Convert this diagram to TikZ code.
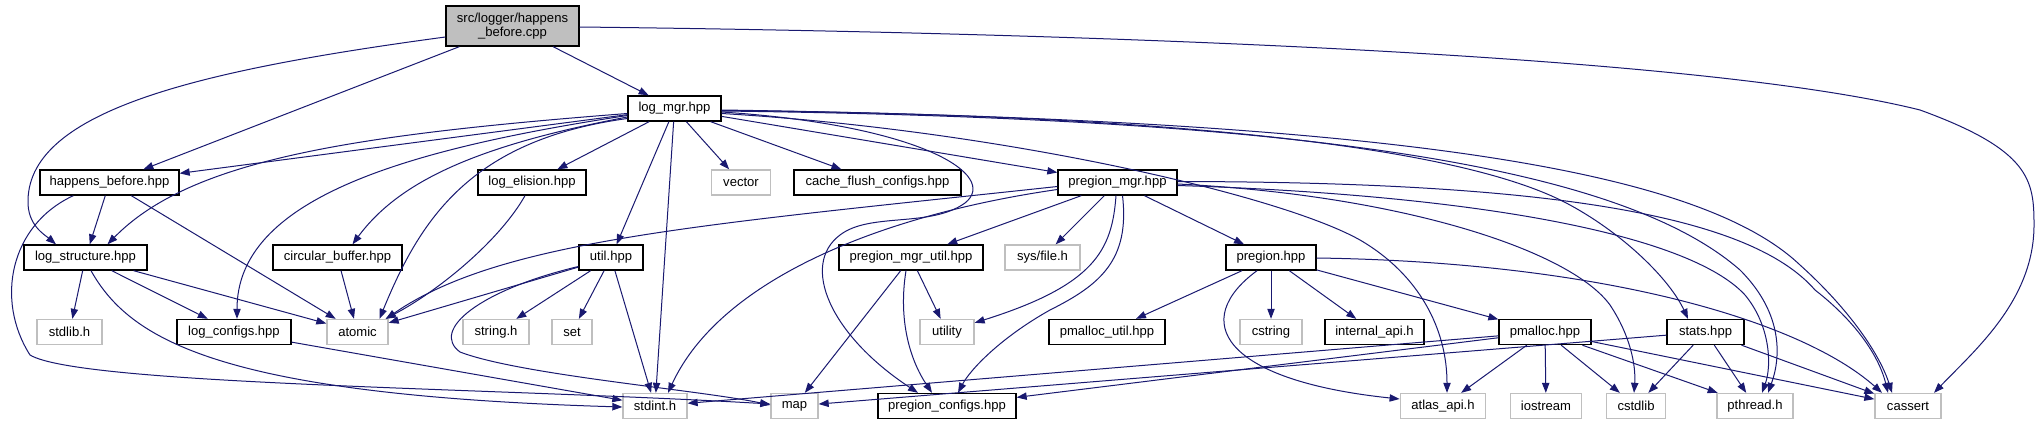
\documentclass[tikz,border=0pt]{standalone}
\usepackage{fontspec}
\setmainfont{Liberation Sans}
\usepackage{tikz}
\usetikzlibrary{arrows.meta,calc}
\definecolor{edgeblue}{RGB}{25,25,112}
\definecolor{sysgray}{RGB}{191,191,191}

\begin{document}
\begin{tikzpicture}[
  x=0.75pt,y=-0.75pt,
  box/.style={draw=black,line width=1pt,fill=white,inner sep=0pt,minimum height=18.75pt,font=\fontsize{9.8}{11}\selectfont},
  sbox/.style={box,draw=sysgray},
  rbox/.style={box,fill=sysgray,align=center,minimum height=30pt},
  bw/.style={minimum width=#1*0.75pt},
  arr/.style={-{Triangle[length=7.5pt,width=5.5pt]},draw=edgeblue,line width=0.75pt}
]
\fill[white] (0,0) rectangle (2040,425);
\useasboundingbox (0,0) rectangle (2040,425);

\node[rbox,bw=133] (root) at (512.5,26) {src/logger/happens\\\_before.cpp};
\node[box,bw=93] (logmgr) at (674.5,108.5) {log\_mgr.hpp};
\node[box,bw=139] (hbhpp) at (109.5,182.5) {happens\_before.hpp};
\node[box,bw=108] (logelision) at (532,182.5) {log\_elision.hpp};
\node[sbox,bw=58.5] (vector) at (741,182.5) {vector};
\node[box,bw=167] (cacheflush) at (877.5,182.5) {cache\_flush\_configs.hpp};
\node[box,bw=119] (pregmgr) at (1117.5,182.5) {pregion\_mgr.hpp};
\node[box,bw=123] (logstruct) at (85.5,257.5) {log\_structure.hpp};
\node[box,bw=129] (circbuf) at (337.5,257.5) {circular\_buffer.hpp};
\node[box,bw=64] (util) at (611,257.5) {util.hpp};
\node[box,bw=144] (pmgrutil) at (911,257.5) {pregion\_mgr\_util.hpp};
\node[sbox,bw=75] (sysfile) at (1042.5,257.5) {sys/file.h};
\node[box,bw=90] (pregion) at (1271,257.5) {pregion.hpp};
\node[sbox,bw=65] (stdlib) at (69.5,332) {stdlib.h};
\node[box,bw=114] (logconfigs) at (234,332) {log\_configs.hpp};
\node[sbox,bw=61] (atomic) at (357.5,332) {atomic};
\node[sbox,bw=66] (stringh) at (496,332) {string.h};
\node[sbox,bw=40] (set) at (572,332) {set};
\node[sbox,bw=54] (utility) at (947,332) {utility};
\node[box,bw=116] (pmallocutil) at (1107,332) {pmalloc\_util.hpp};
\node[sbox,bw=62] (cstring) at (1271,332) {cstring};
\node[box,bw=99] (internalapi) at (1374.5,332) {internal\_api.h};
\node[box,bw=92] (pmalloc) at (1545,332) {pmalloc.hpp};
\node[box,bw=77] (stats) at (1705.5,332) {stats.hpp};
\node[sbox,bw=64] (stdint) at (655,406) {stdint.h};
\node[sbox,bw=47] (map) at (794.5,406) {map};
\node[box,bw=138] (pregconfigs) at (947,406) {pregion\_configs.hpp};
\node[sbox,bw=85.5] (atlasapi) at (1443,406) {atlas\_api.h};
\node[sbox,bw=71.5] (iostream) at (1546,406) {iostream};
\node[sbox,bw=59.5] (cstdlib) at (1636,406) {cstdlib};
\node[sbox,bw=76] (pthread) at (1755,406) {pthread.h};
\node[sbox,bw=66] (cassert) at (1908,406) {cassert};

\draw[arr] (root)--(logmgr);
\draw[arr] (root)--(hbhpp);
\draw[arr] ($(root.west)+(0,11)$) .. controls (200,70) and (30,110) .. (28,200) .. controls (27,225) and (45,235) .. ($(logstruct.north)+(-29.5,0)$);
\draw[arr] ($(root.east)+(0,1)$) .. controls (1100,33) and (1700,55) .. (1920,110) .. controls (2030,150) and (2034,180) .. (2034,225) .. controls (2034,300) and (1975,350) .. ($(cassert.north)+(26,0)$);

\draw[arr] (logmgr)--(hbhpp);
\draw[arr] ($(logmgr.west)+(0,5)$) .. controls (350,135) and (190,160) .. ($(logstruct.north)+(22,0)$);
\draw[arr] ($(logmgr.west)+(0,7)$) .. controls (400,150) and (237,200) .. ($(logconfigs.north)+(3,0)$);
\draw[arr] ($(logmgr.west)+(0,8.5)$) .. controls (480,145) and (400,180) .. ($(circbuf.north)+(15,0)$);
\draw[arr] ($(logmgr.west)+(0,10)$) .. controls (470,140) and (420,220) .. ($(atomic.north)+(22,0)$);
\draw[arr] (logmgr)--(logelision);
\draw[arr] (logmgr)--(util);
\draw[arr] (logmgr)--(stdint);
\draw[arr] (logmgr)--(vector);
\draw[arr] (logmgr)--(cacheflush);
\draw[arr] (logmgr)--(pregmgr);
\draw[arr] ($(logmgr.east)+(0,3.5)$) .. controls (920,125) and (1000,175) .. (965,203) .. controls (930,228) and (870,212) .. (840,235) .. controls (800,265) and (830,335) .. ($(pregconfigs.north)+(-29,0)$);
\draw[arr] ($(logmgr.east)+(0,5)$) .. controls (1000,130) and (1280,195) .. (1360,240) .. controls (1420,275) and (1447,330) .. ($(atlasapi.north)+(4,0)$);
\draw[arr] ($(logmgr.east)+(0,2)$) .. controls (1200,115) and (1470,150) .. (1570,205) .. controls (1625,235) and (1670,280) .. ($(stats.north)+(-17.5,0)$);
\draw[arr] ($(logmgr.east)+(0,2.5)$) .. controls (1300,118) and (1620,165) .. (1740,270) .. controls (1785,315) and (1780,360) .. ($(pthread.north)+(13,0)$);
\draw[arr] ($(logmgr.east)+(0,1.5)$) .. controls (1400,120) and (1700,170) .. (1800,265) .. controls (1850,310) and (1880,355) .. ($(cassert.north)+(-16,0)$);

\draw[arr] (hbhpp)--(logstruct);
\draw[arr] (hbhpp)--(atomic);
\draw[arr] ($(hbhpp.south west)+(34,0)$) .. controls (10,225) and (-5,300) .. (30,355) .. controls (80,385) and (500,388) .. ($(map.west)+(0,-2)$);

\draw[arr] (logstruct)--(stdlib);
\draw[arr] (logstruct)--(logconfigs);
\draw[arr] (logstruct)--(atomic);
\draw[arr] ($(logstruct.south)+(5.5,0)$) .. controls (130,340) and (220,395) .. ($(stdint.west)+(0,1)$);
\draw[arr] (logconfigs)--(stdint);
\draw[arr] (circbuf)--(atomic);
\draw[arr] ($(logelision.south)+(-7,0)$) .. controls (500,240) and (440,290) .. ($(atomic.north)+(28,0)$);

\draw[arr] (util)--(atomic);
\draw[arr] (util)--(stringh);
\draw[arr] (util)--(set);
\draw[arr] (util)--(stdint);
\draw[arr] ($(util.west)+(0,9)$) .. controls (480,290) and (430,330) .. (460,352) .. controls (520,375) and (700,390) .. ($(map.west)+(0,-1)$);

\draw[arr] ($(pregmgr.west)+(0,4)$) .. controls (700,225) and (500,240) .. ($(atomic.north)+(28.5,0)$);
\draw[arr] ($(pregmgr.west)+(0,7)$) .. controls (880,215) and (720,280) .. ($(stdint.north)+(13,0)$);
\draw[arr] (pregmgr)--(pmgrutil);
\draw[arr] (pregmgr)--(sysfile);
\draw[arr] ($(pregmgr.south)+(-1.5,0)$) .. controls (1112,250) and (1095,285) .. ($(utility.north east)+(0,4)$);
\draw[arr] ($(pregmgr.south)+(5,0)$) .. controls (1130,260) and (1100,285) .. (1050,310) .. controls (1000,338) and (970,370) .. ($(pregconfigs.north)+(11,0)$);
\draw[arr] (pregmgr)--(pregion);
\draw[arr] ($(pregmgr.east)+(0,1.5)$) .. controls (1400,195) and (1570,250) .. (1610,305) .. controls (1630,335) and (1636,365) .. ($(cstdlib.north)+(-2,0)$);
\draw[arr] ($(pregmgr.east)+(0,3)$) .. controls (1480,195) and (1690,235) .. (1745,295) .. controls (1770,325) and (1772,365) .. ($(pthread.north)+(7,0)$);
\draw[arr] ($(pregmgr.east)+(0,-1)$) .. controls (1550,182) and (1750,215) .. (1815,290) .. controls (1860,325) and (1880,360) .. ($(cassert.north)+(-20,0)$);

\draw[arr] (pmgrutil)--(utility);
\draw[arr] (pmgrutil)--(map);
\draw[arr] ($(pmgrutil.south)+(-5,0)$) .. controls (898,320) and (910,360) .. ($(pregconfigs.north)+(-15,0)$);

\draw[arr] (pregion)--(pmallocutil);
\draw[arr] (pregion)--(cstring);
\draw[arr] (pregion)--(internalapi);
\draw[arr] (pregion)--(pmalloc);
\draw[arr] ($(pregion.south)+(-14,0)$) .. controls (1190,320) and (1220,380) .. ($(atlasapi.west)+(0,-7)$);
\draw[arr] ($(pregion.east)+(0,0.5)$) .. controls (1600,262) and (1800,320) .. ($(cassert.north)+(-26,0)$);

\draw[arr] (pmalloc)--(stdint);
\draw[arr] (pmalloc)--(pregconfigs);
\draw[arr] (pmalloc)--(atlasapi);
\draw[arr] (pmalloc)--(iostream);
\draw[arr] (pmalloc)--(cstdlib);
\draw[arr] (pmalloc)--(pthread);
\draw[arr] (pmalloc)--(cassert);

\draw[arr] (stats)--(map);
\draw[arr] (stats)--(cstdlib);
\draw[arr] (stats)--(pthread);
\draw[arr] (stats)--(cassert);
\end{tikzpicture}
\end{document}
